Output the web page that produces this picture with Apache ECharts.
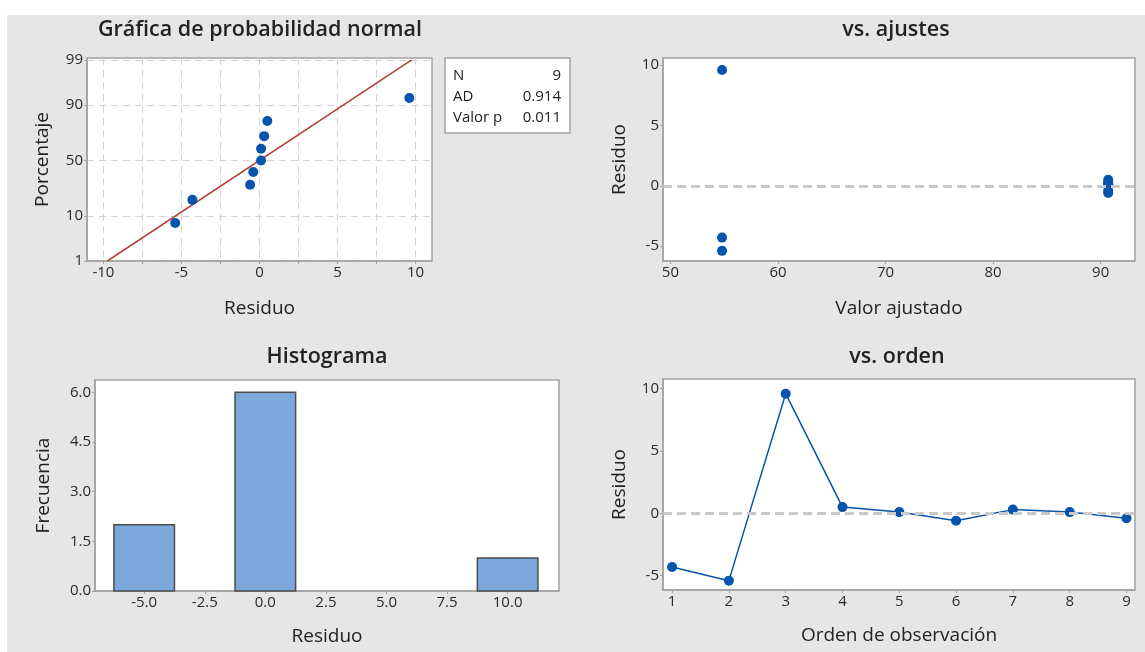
<!DOCTYPE html>
<html><head><meta charset="utf-8">
<script src="https://cdn.jsdelivr.net/npm/echarts@6/dist/echarts.min.js"></script>
<style>
html,body{margin:0;padding:0;background:#fff;}
#bg{position:absolute;left:7px;top:15px;width:1138px;height:637px;background:#e6e6e6;}
#chart{position:absolute;left:0;top:0;width:1145px;height:652px;}
</style></head><body>
<div id="bg"></div><div id="chart"></div>
<script>
// ---------- data ----------
const orden = [1, 2, 3, 4, 5, 6, 7, 8, 9];
const residuos = [-4.3, -5.4, 9.6, 0.5, 0.1, -0.6, 0.3, 0.1, -0.4];
const ajustados = [54.8, 54.8, 54.8, 90.7, 90.7, 90.7, 90.7, 90.7, 90.7];
const porcentajes = [7.4, 18.1, 28.7, 39.4, 50, 60.6, 71.3, 81.9, 92.6];
const lineaAjusteX = [-9.75, 9.75];
const lineaAjusteP = [1, 99];
const histCentros = [-5, -2.5, 0, 2.5, 5, 7.5, 10];
const histFrecuencias = [2, 0, 6, 0, 0, 0, 1];
const anchoClase = 2.5;
const estadNombres = ['N', 'AD', 'Valor p'];
const estadValores = ['9', '0.914', '0.011'];
// ---------- tick labels ----------
const ticksProbX = [-10, -5, 0, 5, 10];
const rejillaProbX = [-10, -7.5, -5, -2.5, 0, 2.5, 5, 7.5, 10];
const ticksProbY = [1, 10, 50, 90, 99];
const ticksAjX = [50, 60, 70, 80, 90];
const ticksResY = [-5, 0, 5, 10];
const ticksHistX = [-5, -2.5, 0, 2.5, 5, 7.5, 10];
const ticksHistY = [0, 1.5, 3, 4.5, 6];
const ticksOrdenX = [1, 2, 3, 4, 5, 6, 7, 8, 9];

// inverse normal CDF (probability scale transform)
function probit(p){
  const a=[-3.969683028665376e+01,2.209460984245205e+02,-2.759285104469687e+02,1.383577518672690e+02,-3.066479806614716e+01,2.506628277459239e+00];
  const b=[-5.447609879822406e+01,1.615858368580409e+02,-1.556989798598866e+02,6.680131188771972e+01,-1.328068155288572e+01];
  const c=[-7.784894002430293e-03,-3.223964580411365e-01,-2.400758277161838e+00,-2.549732539343734e+00,4.374664141464968e+00,2.938163982698783e+00];
  const d=[7.784695709041462e-03,3.224671290700398e-01,2.445134137142996e+00,3.754408661907416e+00];
  const pl=0.02425, ph=1-pl; let q, r;
  if (p < pl) { q=Math.sqrt(-2*Math.log(p)); return (((((c[0]*q+c[1])*q+c[2])*q+c[3])*q+c[4])*q+c[5])/((((d[0]*q+d[1])*q+d[2])*q+d[3])*q+1); }
  if (p <= ph) { q=p-0.5; r=q*q; return (((((a[0]*r+a[1])*r+a[2])*r+a[3])*r+a[4])*r+a[5])*q/(((((b[0]*r+b[1])*r+b[2])*r+b[3])*r+b[4])*r+1); }
  q=Math.sqrt(-2*Math.log(1-p)); return -(((((c[0]*q+c[1])*q+c[2])*q+c[3])*q+c[4])*q+c[5])/((((d[0]*q+d[1])*q+d[2])*q+d[3])*q+1);
}

const FONT = '"Open Sans", "Noto Sans", sans-serif';
const AXC = '#a3a3a3';
const BLUE = '#0654ab';

function mkAxis(gi, min, max, labels, opts) {
  opts = opts || {};
  const tickVals = opts.tickVals || labels;
  return {
    type: 'value', gridIndex: gi, min: min, max: max,
    name: opts.name || '', nameLocation: 'middle', nameGap: opts.nameGap || 30,
    nameTextStyle: { fontFamily: FONT, fontSize: 19, color: '#222' },
    axisLine: { show: true, onZero: false, lineStyle: { color: AXC, width: 1.5 } },
    axisTick: { show: true, length: 3, customValues: tickVals, lineStyle: { color: AXC } },
    axisLabel: { customValues: labels, formatter: opts.fmt || (v => String(v)),
                 color: '#2a2a2a', fontFamily: FONT, fontSize: 15, margin: 4 },
    splitLine: opts.split ? { show: true, lineStyle: { type: [7, 5], color: '#d2d2d2', width: 1 } } : { show: false }
  };
}

const zProbY = ticksProbY.map(p => probit(p / 100));
const fmtProbY = v => {
  let best = 0;
  zProbY.forEach((z, i) => { if (Math.abs(z - v) < Math.abs(zProbY[best] - v)) best = i; });
  return String(ticksProbY[best]);
};
const fmt1 = v => v.toFixed(1);

const residOrdenados = residuos.slice().sort((a, b) => a - b);
const probData = residOrdenados.map((r, i) => [r, probit(porcentajes[i] / 100)]);
const lineaData = lineaAjusteX.map((x, i) => [x, probit(lineaAjusteP[i] / 100)]);

const gridBase = { show: true, backgroundColor: '#fff', borderColor: AXC, borderWidth: 1.5 };

const zeroLine = {
  silent: true, symbol: 'none', label: { show: false },
  lineStyle: { type: [9, 5], color: '#c9c9c9', width: 3 },
  data: [{ yAxis: 0 }], animation: false
};

const txt = (x, y, text, font, align) => ({
  type: 'text', x: x, y: y, silent: true,
  style: { text: text, font: font, fill: '#222', align: align || 'center', verticalAlign: 'middle' }
});

const TFONT = '600 21.5px ' + FONT;
const graphics = [
  txt(260, 30, 'Gráfica de probabilidad normal', TFONT),
  txt(896, 30, 'vs. ajustes', TFONT),
  txt(327, 357, 'Histograma', TFONT),
  txt(897, 357, 'vs. orden', TFONT),
  { type: 'rect', shape: { x: 445, y: 58, width: 125, height: 75 }, silent: true,
    style: { fill: '#fff', stroke: AXC, lineWidth: 1.5 } }
];
estadNombres.forEach((n, i) => {
  graphics.push(txt(453, 76 + i * 21, n, '15px ' + FONT, 'left'));
  graphics.push(txt(561, 76 + i * 21, estadValores[i], '15px ' + FONT, 'right'));
});

const option = {
  backgroundColor: 'transparent',
  animation: false,
  grid: [
    Object.assign({ left: 87, top: 58, width: 345, height: 203 }, gridBase),
    Object.assign({ left: 663, top: 58, width: 472, height: 203 }, gridBase),
    Object.assign({ left: 95, top: 380, width: 464, height: 211 }, gridBase),
    Object.assign({ left: 663, top: 379, width: 472, height: 211 }, gridBase)
  ],
  xAxis: [
    mkAxis(0, -11.05, 11.05, ticksProbX, { tickVals: rejillaProbX, split: true, name: 'Residuo', nameGap: 38 }),
    mkAxis(1, 49.31, 93.19, ticksAjX, { name: 'Valor ajustado', nameGap: 38 }),
    mkAxis(2, -7.03, 12.12, ticksHistX, { fmt: fmt1, name: 'Residuo', nameGap: 36 }),
    mkAxis(3, 0.84, 9.15, ticksOrdenX, { name: 'Orden de observación', nameGap: 36 })
  ],
  yAxis: [
    mkAxis(0, probit(0.01), 2.37, zProbY, { fmt: fmtProbY, split: true, name: 'Porcentaje', nameGap: 35 }),
    mkAxis(1, -6.24, 10.6, ticksResY, { name: 'Residuo', nameGap: 34 }),
    mkAxis(2, 0, 6.37, ticksHistY, { fmt: fmt1, name: 'Frecuencia', nameGap: 42 }),
    mkAxis(3, -6.15, 10.78, ticksResY, { name: 'Residuo', nameGap: 34 })
  ],
  series: [
    { type: 'line', xAxisIndex: 0, yAxisIndex: 0, data: lineaData, showSymbol: false, symbol: 'none',
      lineStyle: { color: '#b3403b', width: 1.5 }, z: 3 },
    { type: 'scatter', xAxisIndex: 0, yAxisIndex: 0, data: probData, symbolSize: 10,
      itemStyle: { color: BLUE, opacity: 1 }, z: 4 },
    { type: 'scatter', xAxisIndex: 1, yAxisIndex: 1, data: ajustados.map((f, i) => [f, residuos[i]]),
      symbolSize: 10, itemStyle: { color: BLUE, opacity: 1 }, markLine: zeroLine, z: 4 },
    { type: 'custom', xAxisIndex: 2, yAxisIndex: 2,
      data: histCentros.map((c, i) => [c, histFrecuencias[i]]),
      renderItem: function (params, api) {
        const c = api.value(0), f = api.value(1);
        if (!f) return { type: 'group', children: [] };
        const p0 = api.coord([c - anchoClase / 2, f]);
        const p1 = api.coord([c + anchoClase / 2, 0]);
        return { type: 'rect', shape: { x: p0[0], y: p0[1], width: p1[0] - p0[0], height: p1[1] - p0[1] },
                 style: { fill: '#7ba7db', stroke: '#4d4d4d', lineWidth: 1.5 } };
      }, z: 3 },
    { type: 'line', xAxisIndex: 3, yAxisIndex: 3, data: orden.map((o, i) => [o, residuos[i]]),
      symbol: 'circle', symbolSize: 10, showAllSymbol: true,
      lineStyle: { color: BLUE, width: 1.5 }, itemStyle: { color: BLUE, opacity: 1 }, markLine: zeroLine, z: 4 }
  ],
  graphic: graphics
};

const chart = echarts.init(document.getElementById('chart'), null, { renderer: 'canvas' });
chart.setOption(option);
</script>
</body></html>
